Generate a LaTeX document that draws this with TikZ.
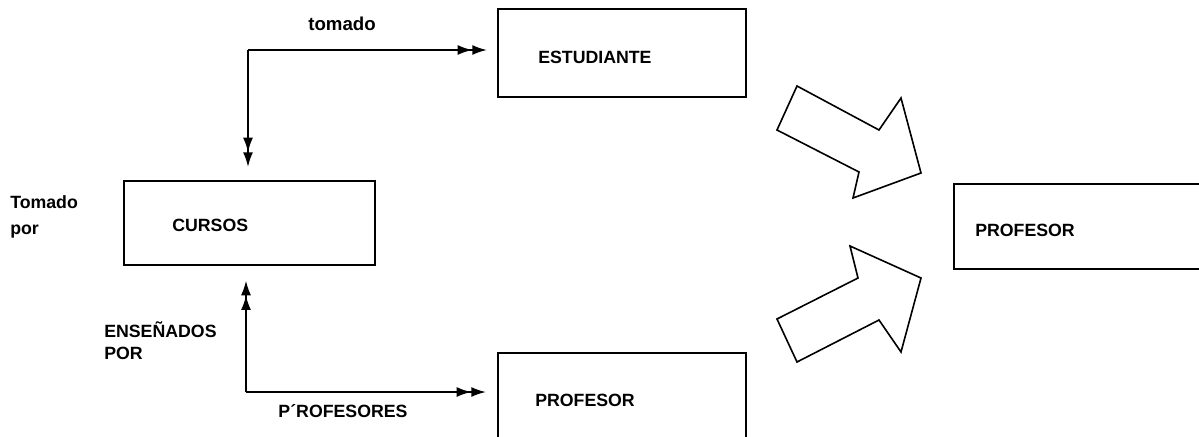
\documentclass[tikz,border=0pt]{standalone}
\usepackage{fontspec}
\setmainfont{Liberation Sans}
\usetikzlibrary{arrows.meta}
\begin{document}
\begin{tikzpicture}[x=0.75pt,y=-0.75pt,
  box/.style={draw,line width=1.2pt,inner sep=0pt,anchor=north west},
  txt/.style={font=\fontsize{13.3}{15}\selectfont\bfseries,inner sep=0pt,anchor=west,align=left},
  conn/.style={line width=1.4pt,-{Latex[length=11pt,width=7.5pt]Latex[length=11pt,width=7.5pt]}},
  blockarrow/.style={draw,line width=1.2pt,line join=miter,fill=white}]
\useasboundingbox (0,0) rectangle (1199,436);
% boxes
\node[box,minimum width=186pt,minimum height=66pt] (estud) at (497,8) {};
\node[box,minimum width=188.25pt,minimum height=63pt] (cursos) at (123,180) {};
\node[box,minimum width=186pt,minimum height=66pt] (prof1) at (497,352) {};
\node[box,minimum width=190pt,minimum height=63.75pt] (prof2) at (953,183) {};
% box texts
\node[txt] (testud) at (538,57) {ESTUDIANTE};
\node[txt] (tcursos) at (172,225) {CURSOS};
\node[txt] (tprof1) at (535,400) {PROFESOR};
\node[txt] (tprof2) at (975,230) {PROFESOR};
% labels
\node[txt,anchor=center,font=\fontsize{14}{15}\selectfont\bfseries] (ltomado) at (342,24) {tomado};
\node[txt,anchor=north west,font=\fontsize{13.3}{19.5}\selectfont\bfseries] (ltomadopor) at (10,195) {Tomado\\por};
\node[txt,anchor=north west,font=\fontsize{13.3}{16.5}\selectfont\bfseries] (lensen) at (104,321) {ENSEÑADOS\\POR};
\node[txt,anchor=center] (lprofs) at (343,411) {P´ROFESORES};
% connectors
\coordinate (c1) at (248,50);
\coordinate (c2) at (246,392);
\draw[conn,shorten >=7.5pt] (c1) -- (estud.west |- c1);
\draw[conn,shorten >=9.75pt] (c1) -- (c1 |- cursos.north);
\draw[conn,shorten >=11.25pt] (c2) -- (c2 |- cursos.south);
\draw[conn,shorten >=8.25pt] (c2) -- (prof1.west |- c2);
% block arrows
\draw[blockarrow] (797,86) -- (879,130) -- (901,98) -- (921,173) -- (853,198) -- (859,172) -- (777,130) -- cycle;
\draw[blockarrow] (850,246) -- (921,278) -- (901,352) -- (879,320) -- (797,362) -- (777,319) -- (858,278) -- cycle;
\end{tikzpicture}
\end{document}
